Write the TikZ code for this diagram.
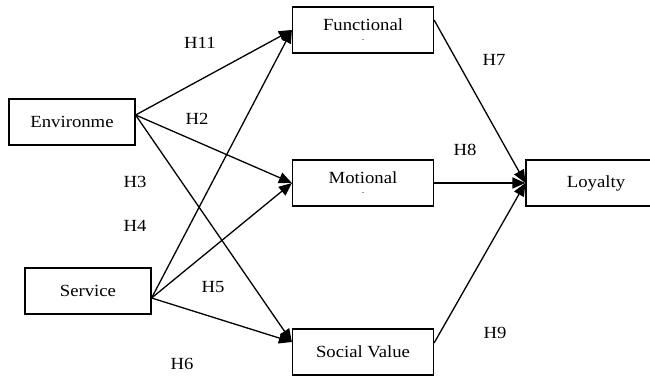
\documentclass[tikz,border=0pt]{standalone}
\usepackage{fontspec}
\setmainfont{Liberation Serif}[FakeStretch=1.1]
\usetikzlibrary{arrows.meta}

\tikzset{
  box/.style={draw, line width=1.2pt, minimum height=46pt, align=center, inner sep=0pt},
  link/.style={line width=1.3pt, -{Triangle[length=13pt,width=11pt]}},
  hyp/.style={inner sep=0pt}
}

\begin{document}
\begin{tikzpicture}[x=1pt,y=1pt,font=\fontsize{17}{20}\selectfont]
    \useasboundingbox (0,0) rectangle (650,-377);
    \node[box, minimum width=126pt] (env)  at (72,-122) {Environme};
    \node[box, minimum width=126pt] (serv) at (88,-291) {Service};
    \node[box, minimum width=141pt] (func) at (363,-30) {\raisebox{-3pt}{Functional}\\[-7pt]{\small .}};
    \node[box, minimum width=141pt] (mot)  at (363,-183) {\raisebox{-3pt}{Motional}\\[-7pt]{\small .}};
    \node[box, minimum width=141pt] (soc)  at (363,-352) {Social Value};
    \node[box, minimum width=140pt] (loy)  at (596,-183) {Loyalty};

    \coordinate (envout)  at ([yshift=7pt]env.east);
    \coordinate (servout) at ([yshift=-7pt]serv.east);
    \coordinate (funcout) at ([yshift=10pt]func.east);
    \coordinate (socin)   at ([yshift=10pt]soc.west);
    \coordinate (socout)  at ([yshift=9pt]soc.east);

    \foreach \a/\b in {envout/func.west, envout/mot.west, envout/socin,
                       servout/func.west, servout/mot.west, servout/socin,
                       funcout/loy.west, mot.east/loy.west, socout/loy.west}
        \draw[link] (\a) -- (\b);

    \node[hyp] (h11) at (200,-43)  {H11};
    \node[hyp] (h2)  at (197,-119) {H2};
    \node[hyp] (h3)  at (135,-182) {H3};
    \node[hyp] (h4)  at (135,-226) {H4};
    \node[hyp] (h5)  at (213,-287) {H5};
    \node[hyp] (h6)  at (182,-364) {H6};
    \node[hyp] (h7)  at (494,-60)  {H7};
    \node[hyp] (h8)  at (465,-150) {H8};
    \node[hyp] (h9)  at (495,-333) {H9};
\end{tikzpicture}
\end{document}
